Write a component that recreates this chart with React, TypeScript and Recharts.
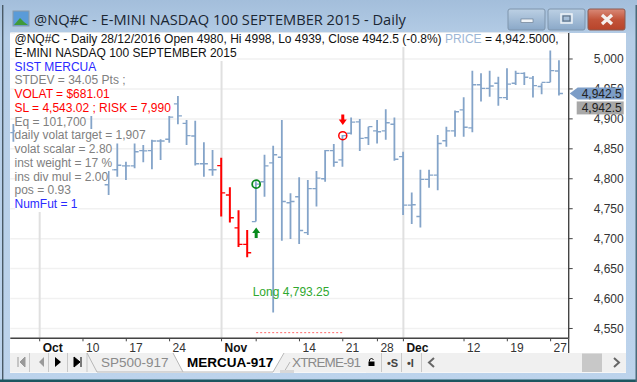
import { Bar, CartesianGrid, ComposedChart, ReferenceDot, ReferenceLine, XAxis, YAxis } from "recharts";

// bar slot on the time axis, then open / high / low / close
const slots = [0, 9, 11, 12, 13, 14, 15, 16, 17, 18, 19, 20, 21, 22, 23, 24, 25, 26, 27, 28, 29, 30, 31, 32, 33, 34, 35, 36, 37, 38, 39, 40, 41, 42, 43, 44, 45, 46, 47, 48, 49, 50, 51, 52, 53, 54, 55, 56, 57, 58, 59, 60, 61, 62, 63];
const opens = [4877, 4910, 4790, 4815, 4821.5, 4821.5, 4847, 4847, 4863, 4866, 4925, 4892.5, 4871.5, 4825, 4815, 4822, 4773, 4718, 4690.5, 4728.5, 4795, 4826.5, 4836, 4760, 4770, 4710, 4783.5, 4800, 4847, 4831.5, 4876, 4895, 4868.5, 4880, 4880, 4891, 4837, 4756, 4737, 4799, 4806, 4863.5, 4880, 4915, 4885, 4957, 4951, 4959.5, 4935.5, 4959.5, 4976, 4968, 4954, 4961, 4980];
const highs = [4891.5, 4920, 4823, 4859, 4828.5, 4859, 4856.5, 4865, 4866, 4905, 4938, 4898, 4897, 4861, 4848, 4835, 4786, 4747.5, 4714.5, 4796, 4840, 4855, 4898, 4776, 4802.5, 4798, 4813, 4848, 4858, 4873, 4902.5, 4900, 4887, 4898, 4916, 4902.5, 4845, 4777, 4815, 4815, 4873, 4887, 4914, 4936, 4980.5, 4976, 4980.5, 4970.5, 4984.5, 4980.5, 4978, 4971.5, 4959.5, 5014, 4998];
const lows = [4862, 4860, 4773, 4803.5, 4798, 4817.5, 4827.5, 4816, 4831.5, 4860, 4891, 4856.5, 4822, 4803.5, 4805, 4737, 4727, 4686, 4669, 4728.5, 4770, 4576.5, 4696.5, 4699.5, 4691, 4706, 4753.5, 4795, 4820, 4820, 4874, 4846.5, 4856.5, 4859, 4865, 4830, 4739.5, 4724.5, 4718.5, 4785, 4781, 4853.5, 4870, 4870, 4877.5, 4929, 4937, 4922, 4931.5, 4956.5, 4956.5, 4935.5, 4941, 4961, 4939];
const closes = [4880, 4870, 4815, 4822.5, 4821.5, 4845, 4846.5, 4863, 4863, 4903, 4905, 4872, 4825, 4825, 4815, 4776.5, 4735, 4690.5, 4676.5, 4791, 4821.5, 4840, 4762, 4762, 4713.5, 4783.5, 4801, 4847, 4827.5, 4872, 4894.5, 4867.5, 4887, 4878.5, 4893.5, 4832.5, 4756, 4756.5, 4799, 4806, 4859, 4880, 4912, 4886, 4957, 4951, 4955, 4935.5, 4958, 4976, 4969.5, 4955.5, 4961, 4980.5, 4942.5];
const shortSlots = [24, 25, 26, 27];

const priceTicks = [4550, 4600, 4650, 4700, 4750, 4800, 4850, 4900, 4950, 5000];
const timeTicks = [3, 8, 13, 18, 24, 28, 33, 38, 42, 45, 52, 57, 62];
const timeLabels = ["Oct", "10", "17", "24", "Nov", "", "14", "21", "28", "Dec", "12", "19", "27"];
const monthTicks = [3, 24, 45];

const lastPrice = 4942.5;
const stopLevel = 4543.02;
const entrySlot = 28;
const entryPrice = 4791;
const exitSlot = 38;
const exitPrice = 4872;

const infoRows = [
  { text: "SIST MERCUA", color: "#2a2aff" },
  { text: "STDEV = 34.05 Pts ;", color: "#808080" },
  { text: "VOLAT = $681.01", color: "#ff0000" },
  { text: "SL = 4,543.02 ; RISK = 7,990", color: "#ff0000" },
  { text: "Eq = 101,700", color: "#808080" },
  { text: "daily volat target = 1,907", color: "#808080" },
  { text: "volat scalar = 2.80", color: "#808080" },
  { text: "inst weight = 17 %", color: "#808080" },
  { text: "ins div mul = 2.00", color: "#808080" },
  { text: "pos = 0.93", color: "#808080" },
  { text: "NumFut = 1", color: "#2a2aff" },
];

const data = slots.map((slot, i) => ({
  slot,
  range: [lows[i], highs[i]],
  open: opens[i],
  close: closes[i],
}));

const uiFont = "'Liberation Sans', Arial, sans-serif";
const titleFont = "'Open Sans', 'Noto Sans', sans-serif";

function OhlcBar(props: any) {
  const { x, y, width, height, payload } = props;
  const [low, high] = payload.range;
  const cx = x + width / 2;
  const toY = (v: number) => y + ((high - v) / (high - low || 1)) * height;
  const isShort = shortSlots.includes(payload.slot);
  const stroke = isShort ? "#ff0000" : "#84a4c9";
  const sw = isShort ? 2 : 1.8;
  return (
    <g stroke={stroke} strokeWidth={sw}>
      <line x1={cx} x2={cx} y1={y} y2={y + height} />
      <line x1={cx - 4} x2={cx} y1={toY(payload.open)} y2={toY(payload.open)} strokeWidth={1.4} />
      <line x1={cx} x2={cx + 4} y1={toY(payload.close)} y2={toY(payload.close)} strokeWidth={1.4} />
    </g>
  );
}

function TimeTick(props: any) {
  const { x, y, payload } = props;
  const label = timeLabels[timeTicks.indexOf(payload.value)];
  const bold = monthTicks.includes(payload.value);
  return (
    <text x={x + 3} y={y + 8.5} fontSize={12} fontWeight={bold ? 700 : 400} fontFamily={uiFont} fill={bold ? "#111" : "#333"}>
      {label}
    </text>
  );
}

function UpArrow({ cx, cy }: any) {
  return <path d={`M${cx} ${cy - 5.5} L${cx + 4} ${cy} L${cx + 1.5} ${cy} L${cx + 1.5} ${cy + 5} L${cx - 1.5} ${cy + 5} L${cx - 1.5} ${cy} L${cx - 4} ${cy} Z`} fill="#068a1c" />;
}

function DownArrow({ cx, cy }: any) {
  return <path d={`M${cx} ${cy + 5.5} L${cx + 4} ${cy} L${cx + 1.5} ${cy} L${cx + 1.5} ${cy - 5} L${cx - 1.5} ${cy - 5} L${cx - 1.5} ${cy} L${cx - 4} ${cy} Z`} fill="#ff0000" />;
}

function EntryLabel({ cx, cy }: any) {
  return (
    <text x={cx - 3.5} y={cy + 4} fontSize={12} fontFamily={uiFont} fill="#2fa82f">
      Long 4,793.25
    </text>
  );
}

function PriceFlags({ cx, cy }: any) {
  const label = lastPrice.toFixed(1).replace("4942", "4,942");
  return (
    <g fontFamily={uiFont} fontSize={12} fill="#222">
      <path d={`M${cx + 1} ${cy} L${cx + 9} ${cy - 6} L${cx + 55} ${cy - 6} L${cx + 55} ${cy + 6} L${cx + 9} ${cy + 6} Z`} fill="#7c9dc7" />
      <rect x={cx + 8} y={cy + 8} width={47} height={13} fill="#a8a8a8" />
      <text x={cx + 53} y={cy + 4.5} textAnchor="end">{label}</text>
      <text x={cx + 53} y={cy + 19} textAnchor="end">{label}</text>
    </g>
  );
}

function Chrome() {
  return (
    <svg width={637} height={382} style={{ position: "absolute", left: 0, top: 0 }}>
      <defs>
        <linearGradient id="frame" x1="0" y1="0" x2="0" y2="1">
          <stop offset="0" stopColor="#a3bedb" />
          <stop offset="0.1" stopColor="#b5cde6" />
          <stop offset="1" stopColor="#bcd3ec" />
        </linearGradient>
        <linearGradient id="btn" x1="0" y1="0" x2="0" y2="1">
          <stop offset="0" stopColor="#bcd0e4" />
          <stop offset="0.5" stopColor="#a3bcd6" />
          <stop offset="1" stopColor="#8aa8c8" />
        </linearGradient>
        <linearGradient id="close" x1="0" y1="0" x2="0" y2="1">
          <stop offset="0" stopColor="#d98a78" />
          <stop offset="0.5" stopColor="#c2543a" />
          <stop offset="1" stopColor="#b8442a" />
        </linearGradient>
      </defs>
      <rect width={637} height={382} fill="url(#frame)" />
      <rect x={2} y={5} width={1.4} height={377} fill="#4a5a66" />
      <rect x={0} y={379.5} width={637} height={2.5} fill="#1d5660" />
      <rect x={635.5} y={5} width={1.5} height={377} fill="#4a6a7a" />
      <rect x={10} y={33} width={616} height={340} fill="#ffffff" />

      {/* title bar */}
      <rect x={13} y={11} width={16} height={15} fill="#5a9bd8" stroke="#8a9aa8" />
      <path d="M14 25 L20 18 L24 22 L28 25 Z" fill="#3f9a3a" />
      <rect x={508} y={9} width={37} height={21} rx={2} fill="url(#btn)" stroke="#7f95ac" />
      <rect x={548} y={9} width={37} height={21} rx={2} fill="url(#btn)" stroke="#7f95ac" />
      <rect x={588} y={9} width={37} height={21} rx={2} fill="url(#close)" stroke="#8a5a50" />
      <rect x={521} y={19} width={12} height={3.5} fill="#f0f4f8" stroke="#5f7286" strokeWidth={0.6} />
      <rect x={561} y={14} width={11} height={9} fill="none" stroke="#f0f4f8" strokeWidth={1.5} />
      <rect x={563} y={16} width={7} height={5} fill="none" stroke="#56697d" strokeWidth={1} />
      <path d="M602 15 L612 24 M612 15 L602 24" stroke="#f4f0ee" strokeWidth={3.2} />
      <text x={34} y={25} fontSize={14.65} fontFamily={titleFont} fill="#1b2733">
        @NQ#C - E-MINI NASDAQ 100 SEPTEMBER 2015 - Daily
      </text>

      {/* sheet tabs */}
      <rect x={10} y={353} width={616} height={19.5} fill="#f0f0f0" />
      <path d="M29.5 353 V372 M48.5 353 V372 M67.5 353 V372 M87 353 V372" stroke="#c8c8c8" />
      <path d="M18 357 V367 M25 357 L20 362 L25 367 Z" stroke="#9a9a9a" fill="#9a9a9a" />
      <path d="M44 357 L39 362 L44 367 Z" fill="#9a9a9a" />
      <path d="M55 357 L61 362 L55 367 Z" fill="#000" />
      <path d="M74 357 L80 362 L74 367 Z M81 357 V367" fill="#000" stroke="#000" />
      <path d="M87 353 L97 372 H173 L183 372" fill="none" stroke="#b8b8b8" />
      <path d="M173 353 L183 372 H273 L282 372 L292 353 Z" fill="#f0f0f0" />
      <path d="M173 353 L183 372 H273 L284 353" fill="#ffffff" stroke="#b8b8b8" />
      <path d="M284 372 L290 362" stroke="#b8b8b8" fill="none" />
      <rect x={280} y={370} width={14} height={3} fill="#d8d8d8" />
      <text x={101} y={367} fontSize={13.5} fontFamily={uiFont} fill="#8a8a8a">SP500-917</text>
      <text x={187} y={367} fontSize={13.5} fontWeight={700} fontFamily={uiFont} fill="#000">MERCUA-917</text>
      <text x={292} y={367} fontSize={13.5} fontFamily={uiFont} fill="#8a8a8a" textLength={69}>XTREME-91</text>
      <rect x={366} y={353} width={56} height={19.5} fill="#f0f0f0" />
      <path d="M381.5 353 V372 M401.5 353 V372 M421.5 353 V372" stroke="#c8c8c8" />
      <rect x={368.5} y={361.5} width={6} height={4.5} fill="#000" />
      <path d="M369.5 361.5 V359.5 Q371.5 357.5 373.5 359.5" fill="none" stroke="#000" />
      <text x={387} y={367} fontSize={11} fontWeight={700} fontFamily={uiFont} fill="#444">•S</text>
      <text x={407} y={367} fontSize={11} fontWeight={700} fontFamily={uiFont} fill="#444">•I</text>
      <path d="M434 358 L429 362.5 L434 367" fill="none" stroke="#666" strokeWidth={2} />
      <rect x={582} y={353.5} width={20} height={18.5} fill="#c8c8c8" />
      <path d="M614 358 L619 362.5 L614 367" fill="none" stroke="#666" strokeWidth={2} />
      <rect x={568} y={338} width={1.3} height={15} fill="#444" />
    </svg>
  );
}

function InfoPanel() {
  const rowStyle = {
    position: "absolute" as const,
    left: 14.5,
    height: 13.75,
    lineHeight: "13.75px",
    fontFamily: uiFont,
    fontSize: 12,
    background: "#ffffff",
    whiteSpace: "nowrap" as const,
  };
  return (
    <>
      <div style={{ ...rowStyle, top: 33, color: "#111" }}>
        @NQ#C - Daily 28/12/2016 Open 4980, Hi 4998, Lo 4939, Close 4942.5 (-0.8%) <span style={{ color: "#9db7d6" }}>PRICE</span> = 4,942.5000,
      </div>
      <div style={{ ...rowStyle, top: 46.75, color: "#111" }}>E-MINI NASDAQ 100 SEPTEMBER 2015</div>
      {infoRows.map((row, i) => (
        <div key={row.text} style={{ ...rowStyle, top: 60.5 + i * 13.75, color: row.color }}>
          {row.text}
        </div>
      ))}
    </>
  );
}

const xDomain: [number, number] = [-0.393, 64.088];
const yDomain: [number, number] = [4533.6, 5043.4];

export default function App() {
  return (
    <div style={{ position: "fixed", left: 0, top: 0, width: 637, height: 382, overflow: "hidden" }}>
      <Chrome />
      <div style={{ position: "absolute", left: 0, top: 0 }}>
        <ComposedChart width={637} height={382} data={data} margin={{ top: 33, right: 13.3, bottom: 28.7, left: 10.3 }}>
          <CartesianGrid vertical={false} stroke="#f1f1f1" strokeWidth={1.5} />
          <CartesianGrid horizontal={false} verticalValues={monthTicks} stroke="#e0e0e0" strokeWidth={2} />
          <XAxis
            dataKey="slot"
            type="number"
            domain={xDomain}
            allowDataOverflow
            ticks={timeTicks}
            interval={0}
            tick={<TimeTick />}
            height={15}
            tickSize={3}
            tickLine={{ stroke: "#444" }}
            axisLine={{ stroke: "#444", strokeWidth: 1.4 }}
          />
          <YAxis
            orientation="right"
            type="number"
            domain={yDomain}
            allowDataOverflow
            ticks={priceTicks}
            interval={0}
            width={55}
            tickSize={4}
            tickMargin={21}
            tickFormatter={(v: number) => v.toLocaleString("en-US")}
            tick={{ fontSize: 12, fontFamily: uiFont, fill: "#333" }}
            tickLine={{ stroke: "#444" }}
            axisLine={{ stroke: "#444", strokeWidth: 1.4 }}
          />
          <Bar dataKey="range" barSize={2} shape={<OhlcBar />} isAnimationActive={false} />
          <ReferenceLine
            segment={[
              { x: entrySlot, y: stopLevel },
              { x: exitSlot, y: stopLevel },
            ]}
            stroke="#ff6a6a"
            strokeDasharray="2 2"
          />
          <ReferenceDot x={entrySlot} y={entryPrice} r={4} fill="none" stroke="#0a8a1e" strokeWidth={1.8} />
          <ReferenceDot x={exitSlot} y={exitPrice} r={4} fill="none" stroke="#ff0000" strokeWidth={1.5} />
          <ReferenceDot x={entrySlot} y={4709.5} shape={<UpArrow />} />
          <ReferenceDot x={exitSlot} y={4899} shape={<DownArrow />} />
          <ReferenceDot x={entrySlot} y={4611} shape={<EntryLabel />} />
        </ComposedChart>
      </div>
      {/* second layer so the price flags sit on top of the axis labels; axes are hidden, so the margin takes their room */}
      <div style={{ position: "absolute", left: 0, top: 0 }}>
        <ComposedChart width={637} height={382} data={data} margin={{ top: 33, right: 68.3, bottom: 43.7, left: 10.3 }}>
          <XAxis dataKey="slot" type="number" domain={xDomain} allowDataOverflow hide />
          <YAxis orientation="right" type="number" domain={yDomain} allowDataOverflow hide />
          <ReferenceDot x={xDomain[1]} y={lastPrice} shape={<PriceFlags />} />
        </ComposedChart>
      </div>
      <InfoPanel />
    </div>
  );
}
